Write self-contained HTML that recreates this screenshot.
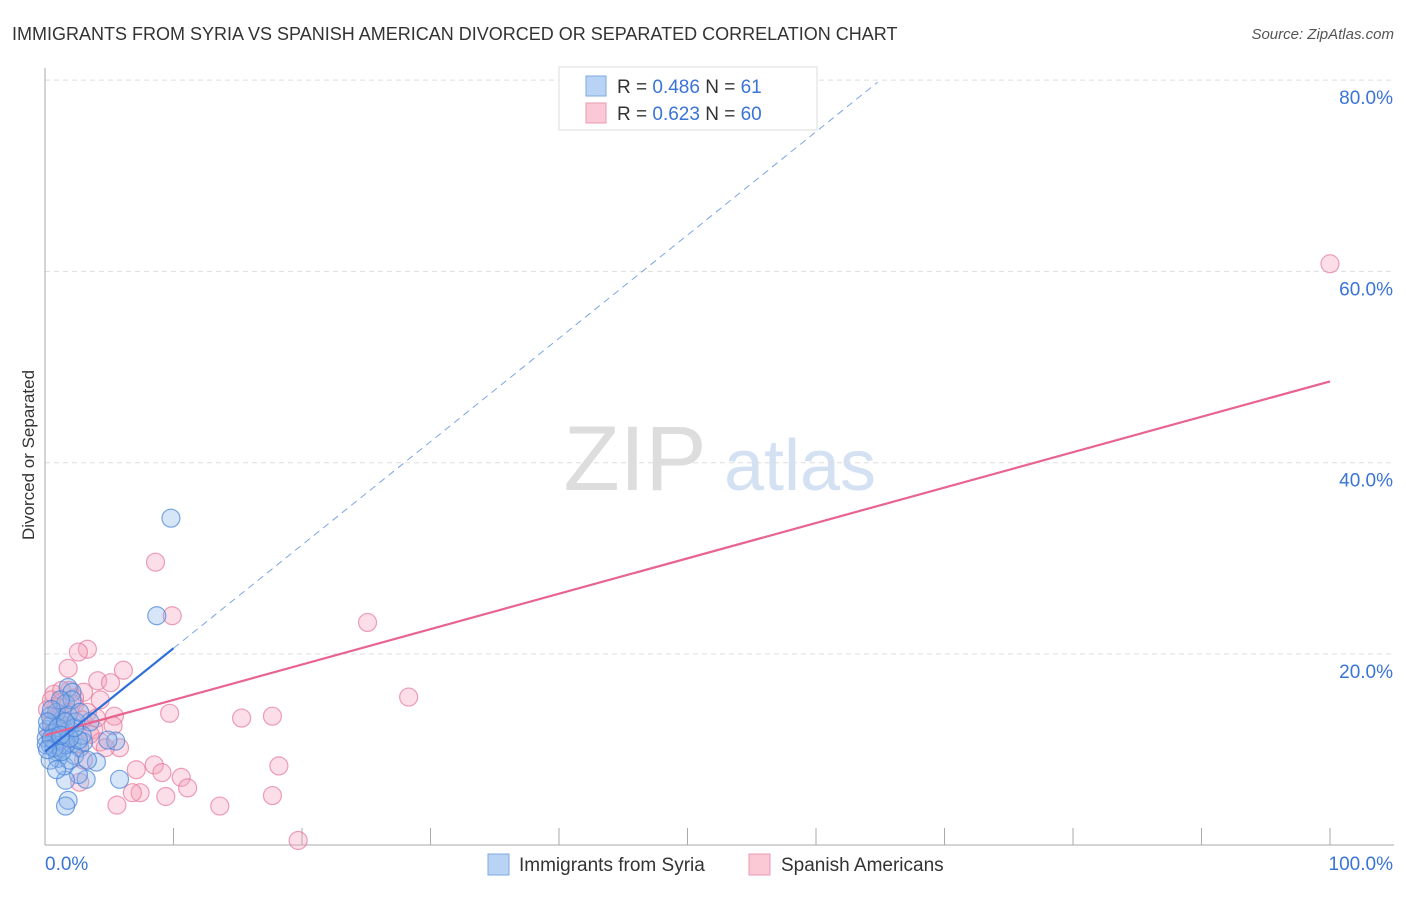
<!DOCTYPE html>
<html><head><meta charset="utf-8"><style>
body{margin:0;background:#fff;font-family:"Liberation Sans",sans-serif}
svg text{font-family:"Liberation Sans",sans-serif}
</style></head><body>
<svg id="chart" width="1406" height="892">
<text x="12" y="40" font-size="18" fill="#333">IMMIGRANTS FROM SYRIA VS SPANISH AMERICAN DIVORCED OR SEPARATED CORRELATION CHART</text>
<text x="1394" y="39" font-size="15" fill="#555" font-style="italic" text-anchor="end">Source: ZipAtlas.com</text>
<text x="34" y="455" font-size="17" fill="#333" text-anchor="middle" transform="rotate(-90 34 455)">Divorced or Separated</text>
<g><text x="635" y="490" font-size="92" fill="#ddd" font-family="Liberation Serif" text-anchor="middle">ZIP</text><text x="800" y="490" font-size="72" fill="#d3e1f3" text-anchor="middle">atlas</text></g>
<g id="grid"></g><g id="axes"></g><g id="trends"></g><g id="points"></g>
<g>
<rect x="559" y="67" width="258" height="63" fill="#fff" stroke="#ddd"/>
<rect x="586" y="76" width="20" height="20" fill="#b9d3f5" stroke="#7fa8e0"/>
<text x="617" y="93" font-size="19" fill="#333">R = <tspan fill="#3a74d6">0.486</tspan>   N =  <tspan fill="#3a74d6">61</tspan></text>
<rect x="586" y="103" width="20" height="20" fill="#fbc9d6" stroke="#eb9bb2"/>
<text x="617" y="120" font-size="19" fill="#333">R = <tspan fill="#3a74d6">0.623</tspan>   N = <tspan fill="#3a74d6">60</tspan></text>
</g>
<g>
<rect x="488" y="854" width="21" height="21" fill="#b9d3f5" stroke="#7fa8e0"/>
<text x="519" y="871" font-size="19" fill="#333">Immigrants from Syria</text>
<rect x="749" y="854" width="21" height="21" fill="#fbc9d6" stroke="#eb9bb2"/>
<text x="781" y="871" font-size="19" fill="#333">Spanish Americans</text>
</g>
</svg>
<script>
const yTicks=[20,40,60,80];
const yTickLabels=["20.0%","40.0%","60.0%","80.0%"];
const xTicks=[0,10,20,30,40,50,60,70,80,90,100];
const syriaX=[9.8,8.7,1.8,2.1,3.5,5.5,4.9,4.0,5.8,3.2,2.6,1.6,1.8,1.6,1.5,0.9,1.2,0.4,0.7,1.0,0.2,0.5,1.3,1.9,2.1,2.7,3.0,2.3,1.0,1.3,0.9,1.6,0.4,0.7,0.1,1.2,1.5,1.8,2.4,1.9,2.9,3.3,0.4,0.9,2.1,1.2,0.5,0.2,1.6,2.6,0.1,0.7,1.3,1.0,1.9,2.3,1.6,2.7,0.5,0.2,1.2];
const syriaY=[34.2,24.0,16.5,16.0,12.9,10.9,11.0,8.7,6.9,6.9,7.4,6.8,4.7,4.1,8.3,9.8,10.2,10.5,11.0,11.5,12.1,12.6,12.6,12.1,10.6,10.2,10.8,9.4,9.1,13.1,13.9,14.8,13.5,11.8,11.2,11.0,11.5,13.6,12.9,8.9,11.5,8.9,8.9,7.9,15.2,15.2,14.2,12.9,10.5,11.0,10.5,10.2,9.8,12.3,11.2,12.3,12.9,13.9,11.2,10.0,11.5];
const spanX=[100,8.6,9.9,25.1,28.3,3.3,2.6,1.8,6.1,4.1,5.1,3.0,0.7,1.9,1.3,2.3,0.9,3.3,5.4,9.7,15.3,17.7,5.3,3.8,1.2,0.5,5.8,4.3,2.6,7.1,8.5,9.1,10.6,11.1,18.2,7.4,6.8,9.4,5.6,13.6,17.7,19.7,2.7,3.0,1.6,1.0,0.4,0.2,0.5,1.2,3.5,4.7,1.9,1.5,2.9,4.3,0.9,2.3,1.3,4.0];
const spanY=[60.8,29.6,24.0,23.3,15.5,20.5,20.2,18.5,18.3,17.2,17.0,16.0,15.8,16.2,15.0,14.7,14.5,13.9,13.5,13.8,13.3,13.5,12.5,12.1,12.8,13.1,10.2,10.8,10.6,7.9,8.4,7.6,7.1,6.0,8.3,5.5,5.5,5.1,4.2,4.1,5.2,0.5,6.6,8.9,11.0,12.1,11.6,14.2,15.2,13.6,11.6,10.2,13.9,12.1,13.1,15.2,10.5,15.4,16.2,13.3];
const syriaTrend=[9.8,1.08];  // intercept, slope
const spanTrend=[11.5,0.37];
const NS="http://www.w3.org/2000/svg";
const sx=v=>45+v*12.85, sy=v=>845.3-v*9.565;
function mk(tag,attrs,parent){const e=document.createElementNS(NS,tag);for(const k in attrs)e.setAttribute(k,attrs[k]);parent.appendChild(e);return e;}
const grid=document.getElementById('grid'),axes=document.getElementById('axes'),tr=document.getElementById('trends'),pts=document.getElementById('points');
yTicks.forEach((t,i)=>{
 const l=mk('line',{x1:45,x2:1394,y1:sy(t),y2:sy(t),stroke:'#ddd','stroke-dasharray':'5,4'},grid);
 
 
 const tx=mk('text',{x:1393,y:sy(t)+24,'font-size':19,fill:'#3a74d6','text-anchor':'end'},axes);
 tx.textContent=yTickLabels[i];
 
 
});
const ya=mk('line',{x1:45,x2:45,y1:68,y2:845,stroke:'#aaa'},axes);


const xa=mk('line',{x1:45,x2:1394,y1:845,y2:845,stroke:'#aaa'},axes);


xTicks.forEach(t=>{
 const l=mk('line',{x1:sx(t),x2:sx(t),y1:828,y2:845,stroke:'#aaa'},axes);
 
 
});
const xl0=mk('text',{x:45,y:870,'font-size':19,fill:'#3a74d6'},axes);xl0.textContent='0.0%';


const xl1=mk('text',{x:1393,y:870,'font-size':19,fill:'#3a74d6','text-anchor':'end'},axes);xl1.textContent='100.0%';


spanX.forEach((x,i)=>{
 const c=mk('circle',{cx:sx(x),cy:sy(spanY[i]),r:9,fill:'rgba(244,160,186,0.35)',stroke:'rgba(230,120,155,0.7)','stroke-width':1.2},pts);
 
 
});
syriaX.forEach((x,i)=>{
 const c=mk('circle',{cx:sx(x),cy:sy(syriaY[i]),r:9,fill:'rgba(140,180,235,0.35)',stroke:'rgba(70,130,215,0.7)','stroke-width':1.2},pts);
 
 
});
const pl=mk('line',{x1:sx(0),y1:sy(spanTrend[0]),x2:sx(100),y2:sy(spanTrend[0]+spanTrend[1]*100),stroke:'#e8648f','stroke-width':2.2},pts);


const bd=mk('line',{x1:sx(10),y1:sy(syriaTrend[0]+syriaTrend[1]*10),x2:sx(64.8),y2:sy(syriaTrend[0]+syriaTrend[1]*64.8),stroke:'#7aa6e6','stroke-width':1,'stroke-dasharray':'7,5'},pts);


const bl=mk('line',{x1:sx(0),y1:sy(syriaTrend[0]),x2:sx(10),y2:sy(syriaTrend[0]+syriaTrend[1]*10),stroke:'#2f6fd8','stroke-width':2.2},pts);


</script>
</body></html>
